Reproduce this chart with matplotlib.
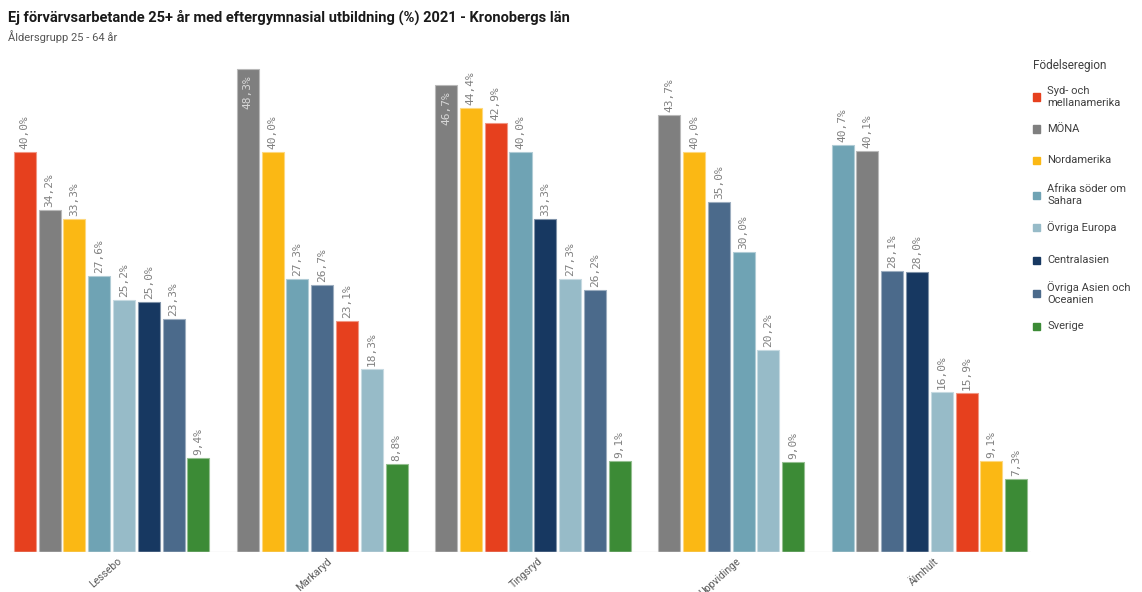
import matplotlib
matplotlib.use('Agg')
import matplotlib.pyplot as plt
import matplotlib.colors as mcolors
from matplotlib.patches import Rectangle

# Data
kommuner = ['Lessebo', 'Markaryd', 'Tingsryd', 'Uppvidinge', 'Älmhult']

regioner = ['Syd- och\nmellanamerika', 'MÖNA', 'Nordamerika', 'Afrika söder om\nSahara',
            'Övriga Europa', 'Centralasien', 'Övriga Asien och\nOceanien', 'Sverige']
farger = ['#E6401E', '#7F7F7F', '#FBB814', '#6FA3B4', '#97BBC8', '#173861', '#4B6A8B', '#3C8B36']

# one list per födelseregion, in kommun order (None = no value)
syd = [40.0, 23.1, 42.9, None, 15.9]
mona = [34.2, 48.3, 46.7, 43.7, 40.1]
nord = [33.3, 40.0, 44.4, 40.0, 9.1]
afrika = [27.6, 27.3, 40.0, 30.0, 40.7]
europa = [25.2, 18.3, 27.3, 20.2, 16.0]
central = [25.0, None, 33.3, None, 28.0]
asien = [23.3, 26.7, 26.2, 35.0, 28.1]
sverige = [9.4, 8.8, 9.1, 9.0, 7.3]

serier = [syd, mona, nord, afrika, europa, central, asien, sverige]


def ljusare(c, f=0.45):
    r, g, b = mcolors.to_rgb(c)
    return (r + (1 - r) * f, g + (1 - g) * f, b + (1 - b) * f)


fig = plt.figure(figsize=(11.42, 5.92), dpi=100)
W, H = 1142, 592
ax = fig.add_axes([10 / W, 40 / H, 1021 / W, 500 / H])

label_font = ['DejaVu Sans Mono']
pos = 0
tick_pos = []
for k, kommun in enumerate(kommuner):
    # bars inside each group sorted by value, highest first
    staplar = [(serier[r][k], r) for r in range(len(regioner)) if serier[r][k] is not None]
    staplar.sort(key=lambda t: -t[0])
    start = pos
    for v, r in staplar:
        ax.bar(pos, v, width=0.89, color=farger[r], edgecolor=ljusare(farger[r]), linewidth=0.8)
        txt = f'{v:.1f}%'.replace('.', ',')
        if v > 45:
            ax.text(pos, v - 0.6, txt, rotation=90, ha='center', va='top',
                    fontsize=8, color='#d8d8d8', family=label_font)
        else:
            ax.text(pos, v + 0.3, txt, rotation=90, ha='center', va='bottom',
                    fontsize=8, color='#808080', family=label_font)
        pos += 1
    tick_pos.append((start + pos - 1) / 2)
    pos += 1  # empty slot between groups

ax.set_xlim(-0.6, pos - 1 - 0.4)
ax.set_ylim(0, 50)
ax.axhline(0, color='#e8e8e8', linewidth=1.0)
for s in ax.spines.values():
    s.set_visible(False)
ax.set_yticks([])
ax.set_xticks([t + 0.2 for t in tick_pos])
ax.set_xticklabels(kommuner, rotation=42, ha='right', rotation_mode='anchor',
                   fontsize=7.5, color='#595959', family='Roboto')
ax.tick_params(axis='x', length=0, pad=3)

# title and subtitle
fig.text(8 / W, 1 - 10 / H, 'Ej förvärvsarbetande 25+ år med eftergymnasial utbildning (%) 2021 - Kronobergs län',
         fontsize=10.5, fontweight='bold', family='Roboto', color='#1a1a1a', va='top')
fig.text(8 / W, 1 - 30 / H, 'Åldersgrupp 25 - 64 år', fontsize=8, family='Roboto',
         color='#555555', va='top')

# legend drawn by hand to match the spacing
fig.text(1033 / W, 1 - 66 / H, 'Födelseregion', fontsize=8.5, family='Roboto',
         color='#404040', va='center')
legend_y = [97, 129, 160, 195, 227, 260, 293, 326]
for r, y in enumerate(legend_y):
    fig.patches.append(Rectangle((1033 / W, 1 - (y + 3.5) / H), 7 / W, 7 / H,
                                 transform=fig.transFigure, color=farger[r]))
    fig.text(1047 / W, 1 - y / H, regioner[r], fontsize=8, family='Roboto',
             color='#404040', va='center', linespacing=1.2)

fig.savefig('out.png', dpi=100)
